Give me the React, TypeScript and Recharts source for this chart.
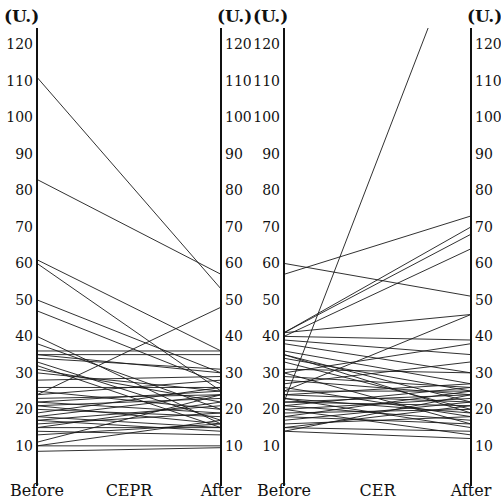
import React from 'react';
import { LineChart, Line, XAxis, YAxis } from 'recharts';

// CEPR panel: value before and after, one pair per subject (U.)
const ceprBefore = [111, 83, 61, 60, 50, 47, 40, 38, 36, 35, 35, 34, 33, 32, 31, 30, 28, 26, 25, 24, 24, 23, 22, 22, 21, 21, 20, 19, 18, 18, 17, 17, 16, 15, 15, 14, 13, 11, 10, 8.5, 10];
const ceprAfter = [53, 57, 36, 25, 30, 27, 16, 20, 36, 35, 30, 31, 17, 15, 22, 25, 29, 26, 20, 48, 28, 24, 19, 25, 16, 23, 18, 26, 24, 15, 21, 14, 19, 15, 22, 13, 16, 24, 17, 9.5, 10];

// CER panel
const cerBefore = [22, 57, 60, 41, 41, 40, 41, 25, 40, 30, 39, 38, 36, 35, 35, 34, 33, 31, 30, 29, 28, 27, 26, 25, 24, 24, 23, 23, 22, 22, 21, 21, 20, 20, 19, 18, 18, 17, 16, 15, 14, 14, 15];
const cerAfter = [155, 73, 51, 70, 68, 64, 46, 46, 39, 38, 35, 30, 27, 22, 19, 25, 20, 30, 16, 26, 24, 33, 18, 25, 22, 27, 19, 15, 24, 21, 26, 17, 23, 13, 20, 25, 16, 22, 18, 14, 12, 24, 21];

const xLabels = ['Before', '', 'After'];
const yTicks = [10, 20, 30, 40, 50, 60, 70, 80, 90, 100, 110, 120];

const font = '"DejaVu Serif", serif';

const buildData = (before: number[], after: number[]) => {
  const a: Record<string, number> = { x: 0 };
  const b: Record<string, number> = { x: 2 };
  before.forEach((v, i) => {
    a[`s${i}`] = v;
    b[`s${i}`] = after[i];
  });
  return [a, b];
};

const XTick = ({ x, y, payload, names }: any) => (
  <text x={x} y={y + 8} textAnchor="middle" fontFamily={font} fontSize={16} fill="#111">
    {names[payload.value]}
  </text>
);

interface PanelProps {
  before: number[];
  after: number[];
  name: string;
  leftWidth: number;
  left: number;
}

const Panel: React.FC<PanelProps> = ({ before, after, name, leftWidth, left }) => {
  const data = buildData(before, after);
  const names = [xLabels[0], name, xLabels[2]];
  const plotWidth = name === 'CEPR' ? 184 : 187;
  return (
    <div style={{ position: 'absolute', left, top: 0 }}>
      <LineChart
        width={leftWidth + plotWidth + 30}
        height={501}
        data={data}
        margin={{ top: 28, right: 0, bottom: 0, left: 0 }}
      >
        <XAxis
          dataKey="x"
          type="number"
          domain={[0, 2]}
          ticks={[0, 1, 2]}
          axisLine={false}
          tickLine={false}
          tickSize={0}
          height={15}
          interval={0}
          tick={<XTick names={names} />}
        />
        <YAxis
          yAxisId="l"
          domain={[-1, 124.5]}
          allowDataOverflow
          ticks={yTicks}
          width={leftWidth}
          interval={0}
          tickLine={false}
          tickSize={0}
          tickMargin={4}
          axisLine={{ stroke: '#111', strokeWidth: 2 }}
          tick={{ fill: '#111', fontSize: 14, fontFamily: font }}
        />
        <YAxis
          yAxisId="r"
          orientation="right"
          domain={[-1, 124.5]}
          allowDataOverflow
          ticks={yTicks}
          width={30}
          interval={0}
          tickLine={false}
          tickSize={0}
          tickMargin={4}
          axisLine={{ stroke: '#111', strokeWidth: 2 }}
          tick={{ fill: '#111', fontSize: 14, fontFamily: font }}
        />
        {before.map((_, i) => (
          <Line
            key={i}
            yAxisId="l"
            dataKey={`s${i}`}
            stroke="#1a1a1a"
            strokeWidth={0.9}
            dot={false}
            activeDot={false}
            isAnimationActive={false}
          />
        ))}
      </LineChart>
    </div>
  );
};

const unitStyle = (left: number): React.CSSProperties => ({
  position: 'absolute',
  left,
  top: 6,
  fontFamily: font,
  fontSize: 17,
  fontWeight: 'bold',
  color: '#111',
  whiteSpace: 'nowrap',
});

const App: React.FC = () => (
  <div style={{ position: 'absolute', left: 0, top: 0, width: 501, height: 501, overflow: 'hidden', background: '#fff' }}>
    <Panel before={ceprBefore} after={ceprAfter} name="CEPR" leftWidth={37} left={0} />
    <Panel before={cerBefore} after={cerAfter} name="CER" leftWidth={33} left={251} />
    <span style={unitStyle(4)}>(U.)</span>
    <span style={unitStyle(217)}>(U.)</span>
    <span style={unitStyle(253)}>(U.)</span>
    <span style={unitStyle(467)}>(U.)</span>
  </div>
);

export default App;
